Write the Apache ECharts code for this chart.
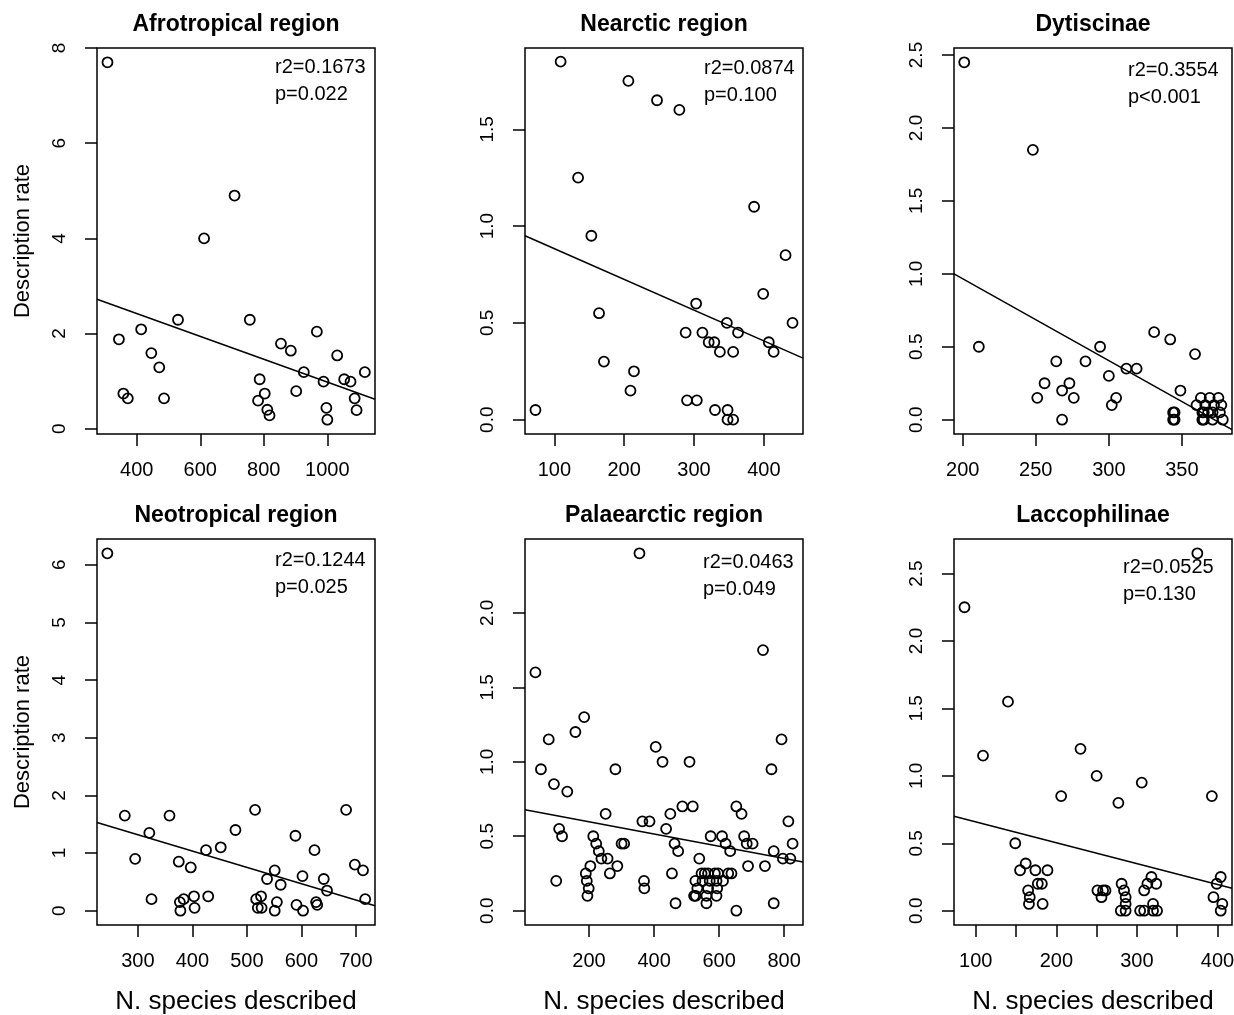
<!DOCTYPE html>
<html>
<head>
<meta charset="utf-8">
<title>Description rate vs N. species described</title>
<script src="https://cdn.jsdelivr.net/npm/echarts@6/dist/echarts.min.js"></script>
<style>
  html, body { margin: 0; padding: 0; background: #fff; }
  #chart { width: 1234px; height: 1015px; }
</style>
</head>
<body>
<div id="chart"></div>
<script>
// panel texts
var panelTitles = ["Afrotropical region", "Nearctic region", "Dytiscinae",
                   "Neotropical region", "Palaearctic region", "Laccophilinae"];
var r2Texts = ["r2=0.1673", "r2=0.0874", "r2=0.3554", "r2=0.1244", "r2=0.0463", "r2=0.0525"];
var pTexts = ["p=0.022", "p=0.100", "p<0.001", "p=0.025", "p=0.049", "p=0.130"];

// [N. species described, description rate]
var afroPoints = [[308,7.70],[708,4.90],[612,4.00],[344,1.88],[414,2.09],[530,2.29],[756,2.29],
  [446,1.59],[471,1.29],[358,0.74],[372,0.64],[486,0.64],[854,1.79],[885,1.64],[967,2.04],
  [1031,1.54],[926,1.19],[787,1.04],[803,0.74],[782,0.59],[811,0.40],[818,0.28],[902,0.79],
  [988,0.99],[997,0.44],[1000,0.19],[1053,1.04],[1073,0.99],[1118,1.19],[1086,0.64],[1092,0.39]];
var afroFit = [[275,2.72],[1150,0.62]];

var nearPoints = [[109,1.85],[206,1.75],[247,1.65],[279,1.60],[134,1.25],[153,0.95],[386,1.10],
  [431,0.85],[399,0.65],[164,0.55],[303,0.60],[441,0.50],[347,0.50],[288,0.45],[312,0.45],
  [363,0.45],[321,0.40],[329,0.40],[407,0.40],[337,0.35],[356,0.35],[414,0.35],[171,0.30],
  [214,0.25],[209,0.15],[290,0.10],[304,0.10],[73,0.05],[330,0.05],[348,0.05],[348,0],[356,0]];
var nearFit = [[58,0.95],[456,0.318]];

var dytiPoints = [[201,2.45],[248,1.85],[211,0.50],[294,0.50],[331,0.60],[342,0.55],[359,0.45],
  [264,0.40],[284,0.40],[300,0.30],[312,0.35],[319,0.35],[256,0.25],[273,0.25],[268,0.20],
  [349,0.20],[251,0.15],[276,0.15],[305,0.15],[302,0.10],[268,0],
  [344,0.05],[344,0],[345,0.05],[345,0],[364,0.05],[364,0],[365,0.05],[365,0],
  [363,0.15],[369,0.15],[375,0.15],[360,0.10],[366,0.10],[372,0.10],[377,0.10],
  [368,0.05],[371,0.05],[376,0.05],[378,0],[371,0]];
var dytiFit = [[194,1.0],[384.3,-0.068]];

var neoPoints = [[244,6.2],[276,1.65],[358,1.65],[321,1.35],[295,0.90],[325,0.20],[375,0.85],
  [397,0.75],[425,1.05],[452,1.10],[479,1.40],[515,1.75],[589,1.30],[624,1.05],[682,1.75],
  [698,0.80],[713,0.70],[717,0.20],[537,0.55],[551,0.70],[562,0.45],[602,0.60],[641,0.55],
  [647,0.35],[384,0.20],[377,0.15],[378,0],[403,0.25],[404,0.05],[429,0.25],[517,0.20],
  [526,0.25],[520,0.05],[527,0.05],[555,0.15],[551,0],[591,0.10],[603,0],[627,0.15],[629,0.10]];
var neoFit = [[225,1.53],[735,0.087]];

var palaPoints = [[355,2.40],[35,1.60],[735,1.75],[185,1.30],[158,1.20],[76,1.15],[792,1.15],
  [405,1.10],[426,1.00],[509,1.00],[52,0.95],[281,0.95],[761,0.95],[92,0.85],[133,0.80],
  [251,0.65],[487,0.70],[519,0.70],[653,0.70],[669,0.65],[364,0.60],[386,0.60],[450,0.65],
  [813,0.60],[108,0.55],[117,0.50],[437,0.55],[213,0.50],[574,0.50],[609,0.50],[677,0.50],
  [222,0.45],[300,0.45],[308,0.45],[463,0.45],[620,0.45],[685,0.45],[703,0.45],[826,0.45],
  [230,0.40],[474,0.40],[634,0.40],[768,0.40],[238,0.35],[257,0.35],[796,0.35],[819,0.35],
  [539,0.35],[204,0.30],[287,0.30],[689,0.30],[741,0.30],[190,0.25],[264,0.25],[455,0.25],
  [99,0.20],[193,0.20],[369,0.20],[199,0.15],[370,0.15],[195,0.10],[466,0.05],[768,0.05],[653,0],
  [546,0.25],[556,0.25],[566,0.25],[587,0.25],[597,0.25],[628,0.25],[638,0.25],
  [527,0.20],[549,0.20],[571,0.20],[592,0.20],[612,0.20],
  [533,0.15],[566,0.15],[594,0.15],[523,0.10],[528,0.10],[561,0.10],[592,0.10],[561,0.05]];
var palaFit = [[3,0.678],[858,0.327]];

var laccPoints = [[375,2.65],[86,2.25],[140,1.55],[109,1.15],[230,1.20],[250,1.00],[306,0.95],
  [206,0.85],[277,0.80],[393,0.85],[149,0.50],[162,0.35],[155,0.30],[174,0.30],[189,0.30],
  [177,0.20],[182,0.20],[165,0.15],[167,0.10],[166,0.05],[183,0.05],[251,0.15],[256,0.10],
  [258,0.15],[261,0.15],[281,0.20],[284,0.15],[286,0.10],[286,0.05],[280,0],[286,0],
  [309,0.15],[313,0.20],[318,0.25],[324,0.20],[320,0.05],[304,0],[309,0],[320,0],[325,0],
  [395,0.10],[399,0.20],[404,0.25],[406,0.05],[404,0]];
var laccFit = [[73,0.70],[418,0.167]];

// axis ticks
var afroXTicks = [400, 600, 800, 1000];
var afroYTicks = [0, 2, 4, 6, 8];
var nearXTicks = [100, 200, 300, 400];
var nearYTicks = [0, 0.5, 1, 1.5];
var dytiXTicks = [200, 250, 300, 350];
var dytiYTicks = [0, 0.5, 1, 1.5, 2, 2.5];
var neoXTicks = [300, 400, 500, 600, 700];
var neoYTicks = [0, 1, 2, 3, 4, 5, 6];
var palaXTicks = [200, 400, 600, 800];
var palaYTicks = [0, 0.5, 1, 1.5, 2];
var laccXTicks = [100, 150, 200, 250, 300, 350, 400];
var laccXLabels = [100, 200, 300, 400];
var laccYTicks = [0, 0.5, 1, 1.5, 2, 2.5];

var FONT = '"Liberation Sans", Arial, Helvetica, sans-serif';
var cols = [97, 525, 954];
var rows = [48, 539];
var boxW = 278, boxH = 386;

var panels = [
  {pts: afroPoints, fit: afroFit, xr: [275, 1150], xt: afroXTicks, xl: afroXTicks, yr: [-0.11, 8.0], yt: afroYTicks, dec: 0, tx: 275, ty: 67},
  {pts: nearPoints, fit: nearFit, xr: [58, 456], xt: nearXTicks, xl: nearXTicks, yr: [-0.074, 1.92], yt: nearYTicks, dec: 1, tx: 704, ty: 68},
  {pts: dytiPoints, fit: dytiFit, xr: [194, 384.3], xt: dytiXTicks, xl: dytiXTicks, yr: [-0.098, 2.548], yt: dytiYTicks, dec: 1, tx: 1128, ty: 70},
  {pts: neoPoints, fit: neoFit, xr: [225, 735], xt: neoXTicks, xl: neoXTicks, yr: [-0.248, 6.448], yt: neoYTicks, dec: 0, tx: 275, ty: 560},
  {pts: palaPoints, fit: palaFit, xr: [3, 858], xt: palaXTicks, xl: palaXTicks, yr: [-0.096, 2.496], yt: palaYTicks, dec: 1, tx: 703, ty: 562},
  {pts: laccPoints, fit: laccFit, xr: [73, 418], xt: laccXTicks, xl: laccXLabels, yr: [-0.106, 2.756], yt: laccYTicks, dec: 1, tx: 1123, ty: 567}
];

var chart = echarts.init(document.getElementById('chart'));

var grids = [], xAxes = [], yAxes = [], series = [], titles = [];

panels.forEach(function (p, i) {
  var row = Math.floor(i / 3), col = i % 3;
  var dec = p.dec;
  grids.push({
    left: cols[col], top: rows[row], width: boxW, height: boxH,
    show: true, borderColor: '#000', borderWidth: 1.5,
    backgroundColor: 'transparent', outerBoundsMode: 'none'
  });
  xAxes.push({
    gridIndex: i, type: 'value', min: p.xr[0], max: p.xr[1],
    axisLine: {show: false, onZero: false},
    splitLine: {show: false},
    axisTick: {show: true, length: 12, customValues: p.xt, lineStyle: {color: '#000', width: 1.5}},
    axisLabel: {
      customValues: p.xl, margin: 26, fontSize: 20, color: '#000', fontFamily: FONT,
      formatter: function (v) { return String(v); }
    },
    name: row === 1 ? 'N. species described' : '',
    nameLocation: 'middle', nameGap: 64,
    nameTextStyle: {fontSize: 26, color: '#000', fontFamily: FONT}
  });
  yAxes.push({
    gridIndex: i, type: 'value', min: p.yr[0], max: p.yr[1],
    axisLine: {show: false, onZero: false},
    splitLine: {show: false},
    axisTick: {show: true, length: 12, customValues: p.yt, lineStyle: {color: '#000', width: 1.5}},
    axisLabel: {
      customValues: p.yt, rotate: 90, margin: 28, fontSize: 19, color: '#000', fontFamily: FONT,
      formatter: function (v) { return Number(v).toFixed(dec); }
    },
    name: col === 0 ? 'Description rate' : '',
    nameLocation: 'middle', nameGap: 63,
    nameTextStyle: {fontSize: 22, color: '#000', fontFamily: FONT}
  });
  series.push({
    type: 'scatter', xAxisIndex: i, yAxisIndex: i, data: p.pts,
    symbol: 'circle', symbolSize: 10, silent: true,
    itemStyle: {color: 'rgba(0,0,0,0)', borderColor: '#000', borderWidth: 1.8, opacity: 1}
  });
  series.push({
    type: 'line', xAxisIndex: i, yAxisIndex: i, data: p.fit,
    symbol: 'none', silent: true, clip: true,
    lineStyle: {color: '#000', width: 1.5}
  });
  titles.push({
    text: panelTitles[i], left: cols[col] + boxW / 2, top: row === 0 ? 12 : 503,
    textAlign: 'center', padding: 0,
    textStyle: {fontSize: 23, fontWeight: 'bold', color: '#000', fontFamily: FONT, lineHeight: 26}
  });
  titles.push({
    text: r2Texts[i] + '\n' + pTexts[i], left: p.tx, top: p.ty - 13.5, padding: 0,
    textStyle: {fontSize: 20, fontWeight: 'normal', color: '#000', fontFamily: FONT, lineHeight: 27}
  });
});

chart.setOption({
  animation: false,
  backgroundColor: '#fff',
  title: titles,
  grid: grids,
  xAxis: xAxes,
  yAxis: yAxes,
  series: series
});
</script>
</body>
</html>
